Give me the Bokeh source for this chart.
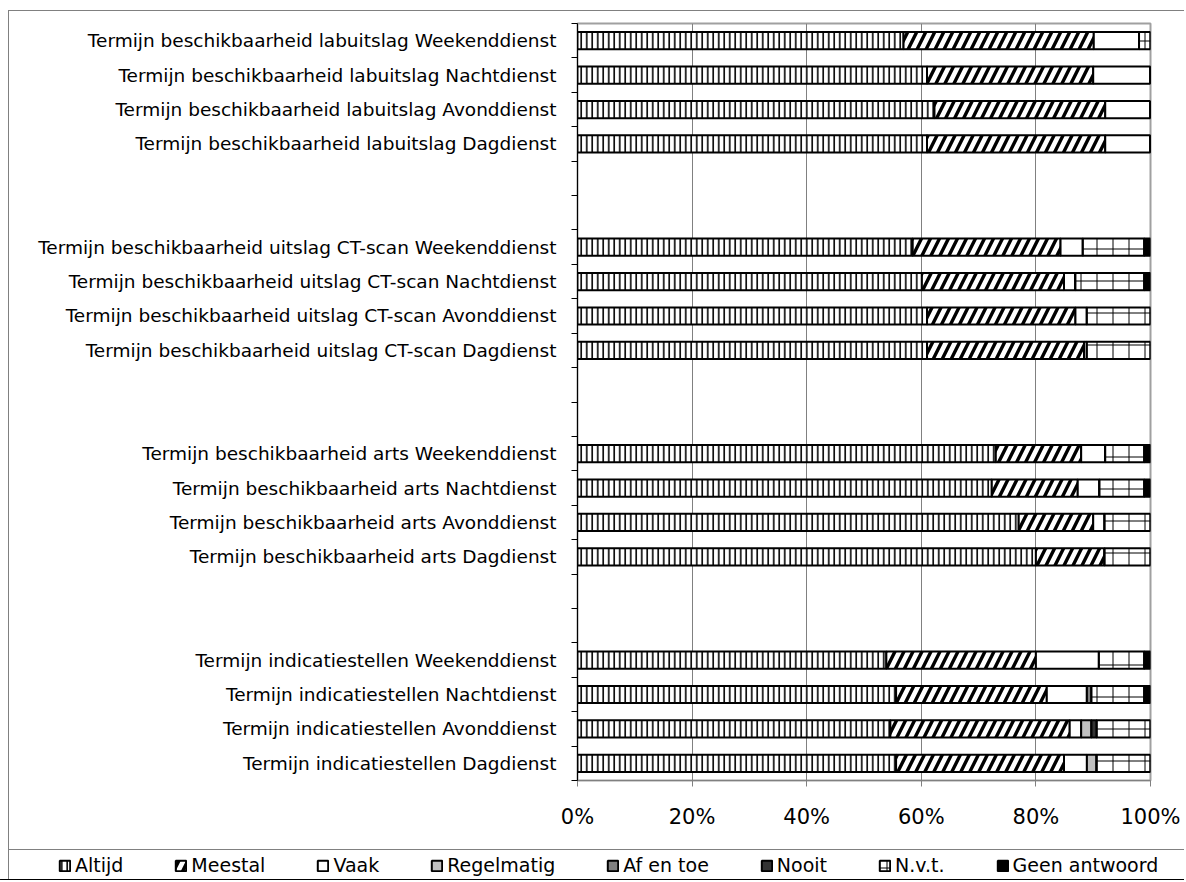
from bokeh.plotting import figure
from bokeh.layouts import column
from bokeh.models import (ColumnDataSource, Range1d, FixedTicker, PrintfTickFormatter,
                          Legend, LegendItem)
from bokeh.embed import file_html
from bokeh.resources import INLINE

# ---- data (rows from bottom to top of the chart) ----
categories = [
    "Termijn indicatiestellen Dagdienst",
    "Termijn indicatiestellen Avonddienst",
    "Termijn indicatiestellen Nachtdienst",
    "Termijn indicatiestellen Weekenddienst",
    "Termijn beschikbaarheid arts Dagdienst",
    "Termijn beschikbaarheid arts Avonddienst",
    "Termijn beschikbaarheid arts Nachtdienst",
    "Termijn beschikbaarheid arts Weekenddienst",
    "Termijn beschikbaarheid uitslag CT-scan Dagdienst",
    "Termijn beschikbaarheid uitslag CT-scan Avonddienst",
    "Termijn beschikbaarheid uitslag CT-scan Nachtdienst",
    "Termijn beschikbaarheid uitslag CT-scan Weekenddienst",
    "Termijn beschikbaarheid labuitslag Dagdienst",
    "Termijn beschikbaarheid labuitslag Avonddienst",
    "Termijn beschikbaarheid labuitslag Nachtdienst",
    "Termijn beschikbaarheid labuitslag Weekenddienst",
]
series = ["Altijd", "Meestal", "Vaak", "Regelmatig", "Af en toe", "Nooit", "N.v.t.", "Geen antwoord"]

altijd     = [55.6, 54.6, 55.6, 53.9, 80.0, 77.0, 72.3, 73.0, 61.0, 61.0, 60.1, 58.5, 61.0, 62.3, 61.0, 56.9]
meestal    = [29.3, 31.3, 26.3, 26.1, 12.0, 13.0, 15.0, 14.9, 27.4, 25.9, 24.8, 25.8, 31.1, 29.8, 29.0, 33.2]
vaak       = [4.0, 2.0, 7.0, 11.0, 0.0, 2.0, 3.8, 4.2, 0.5, 2.0, 2.0, 3.9, 7.9, 7.9, 10.0, 7.9]
regelmatig = [1.7, 1.8, 0.0, 0.0, 0.0, 0.0, 0.0, 0.0, 0.0, 0.0, 0.0, 0.0, 0.0, 0.0, 0.0, 0.0]
af_en_toe  = [0.0, 0.0, 0.8, 0.0, 0.0, 0.0, 0.0, 0.0, 0.0, 0.0, 0.0, 0.0, 0.0, 0.0, 0.0, 0.0]
nooit      = [0.0, 0.9, 0.0, 0.0, 0.0, 0.0, 0.0, 0.0, 0.0, 0.0, 0.0, 0.0, 0.0, 0.0, 0.0, 0.0]
nvt        = [9.4, 9.4, 9.2, 7.9, 8.0, 8.0, 7.8, 6.8, 11.1, 11.1, 12.0, 10.7, 0.0, 0.0, 0.0, 2.0]
geen       = [0.0, 0.0, 1.1, 1.1, 0.0, 0.0, 1.1, 1.1, 0.0, 0.0, 1.1, 1.1, 0.0, 0.0, 0.0, 0.0]

x_ticks = [0, 20, 40, 60, 80, 100]

# ---- layout helpers: 4 rows per group, 2 empty slots between groups ----
n_slots = len(categories) + 2 * (len(categories) // 4 - 1)
y_pos = [i + 2 * (i // 4) + 0.5 for i in range(len(categories))]

keys = ["altijd", "meestal", "vaak", "regelmatig", "af_en_toe", "nooit", "nvt", "geen"]
source = ColumnDataSource(dict(
    y=y_pos, altijd=altijd, meestal=meestal, vaak=vaak, regelmatig=regelmatig,
    af_en_toe=af_en_toe, nooit=nooit, nvt=nvt, geen=geen,
))

FONT = "DejaVu Sans"
GRAY = "#808080"

fills = ["white", "white", "white", "#c0c0c0", "#808080", "#333333", "white", "black"]
hatches = ["vertical_line", "right_diagonal_line", " ", " ", " ", " ", "cross", " "]
hscale = [5.5, 18, 12, 12, 12, 12, 16, 12]
hweight = [1.6, 3.4, 1, 1, 1, 1, 1, 1]
bar_style = dict(fill_color=fills, hatch_pattern=hatches, hatch_scale=hscale,
                 hatch_weight=hweight, hatch_color="black",
                 line_color="black", line_width=2)

# ---------------- main chart ----------------
p = figure(width=1184, height=850,
           x_range=Range1d(0, 100), y_range=Range1d(0, n_slots),
           output_backend="svg", toolbar_location=None,
           min_border_left=577, min_border_right=34,
           min_border_top=23, min_border_bottom=70)
p.frame_align = False
p.border_fill_color = None
# chart-area border (left/top) and legend separator line behind the canvas
p.styles = {
    "background-color": "white",
    "background-image": (f"linear-gradient({GRAY},{GRAY}), linear-gradient({GRAY},{GRAY}), "
                         f"linear-gradient({GRAY},{GRAY})"),
    "background-size": "1px 100%, 100% 1px, 100% 1px",
    "background-position": "8px 10px, 8px 10px, 8px 849px",
    "background-repeat": "no-repeat",
}

renderers = p.hbar_stack(keys, y="y", height=0.5, source=source, **bar_style)

p.xaxis.ticker = FixedTicker(ticks=x_ticks)
p.xaxis.formatter = PrintfTickFormatter(format="%d%%")
p.xaxis.major_label_text_font = FONT
p.xaxis.major_label_text_font_size = "21px"
p.xaxis.major_label_text_color = "black"
p.xaxis.major_tick_out = 6
p.xaxis.major_tick_in = 0
p.xaxis.minor_tick_line_color = None
p.xaxis.axis_line_color = GRAY
p.xaxis.major_tick_line_color = GRAY
p.xaxis.major_label_standoff = 18

p.yaxis.ticker = FixedTicker(ticks=y_pos, minor_ticks=list(range(n_slots + 1)))
p.yaxis.major_label_overrides = {y: c for y, c in zip(y_pos, categories)}
p.yaxis.major_label_text_font = FONT
p.yaxis.major_label_text_font_size = "18.5px"
p.yaxis.major_label_text_color = "black"
p.yaxis.major_tick_out = 0
p.yaxis.major_tick_in = 0
p.yaxis.minor_tick_out = 6
p.yaxis.minor_tick_in = 0
p.yaxis.minor_tick_line_color = "black"
p.yaxis.axis_line_color = "black"
p.yaxis.major_label_standoff = 15

p.xgrid.ticker = FixedTicker(ticks=x_ticks)
p.xgrid.grid_line_color = GRAY
p.ygrid.grid_line_color = None

p.outline_line_color = "#a0a0a0"
p.outline_line_width = 2

# ---------------- legend strip ----------------
# same stacked bars, far outside this strip's visible range: they only feed the legend
lf = figure(width=1184, height=30, x_range=Range1d(0, 100), y_range=Range1d(500, 501),
            output_backend="svg", toolbar_location=None, min_border=0)
lf.frame_align = False
lf.axis.visible = False
lf.grid.grid_line_color = None
lf.outline_line_color = None
lf.border_fill_color = None
lf.background_fill_color = None
lf.styles = {
    "background-color": "white",
    "background-image": f"linear-gradient({GRAY},{GRAY})",
    "background-size": "1px 100%",
    "background-position": "8px 0px",
    "background-repeat": "no-repeat",
}
legend_renderers = lf.hbar_stack(keys, y="y", height=0.5, source=source, **bar_style)

legend = Legend(
    items=[LegendItem(label=s, renderers=[r]) for s, r in zip(series, legend_renderers)],
    orientation="horizontal", location=(58, 4),
    padding=5, spacing=51, margin=0,
    glyph_width=13, glyph_height=13, label_standoff=4, label_height=20,
    label_text_font=FONT, label_text_font_size="19px", label_text_color="black",
    border_line_color=None, background_fill_color=None,
)
lf.add_layout(legend)

layout = column(p, lf, spacing=0)
open("out.html", "w").write(file_html(layout, INLINE))
